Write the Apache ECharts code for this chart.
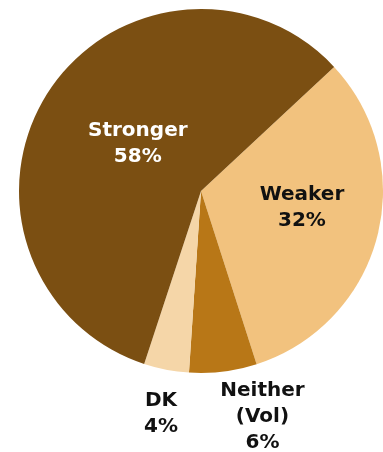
<html>
	<head>
		<meta charset="utf-8">
		<title>Stronger / Weaker</title>
		<script src="https://cdn.jsdelivr.net/npm/echarts@6/dist/echarts.min.js"></script>
	</head>
	<body style="margin: 0px;background:#fff;">
		<div id="main" style="width: 383px;height:452px;"></div>
		<script type="text/javascript">
			// data, clockwise from the upper right
			var names = ['Weaker', 'Neither\n(Vol)', 'DK', 'Stronger'];
			var values = [32, 6, 4, 58];
			var colors = ['#f2c27e', '#b87717', '#f5d6a8', '#7b4f12'];
			var textColors = ['#111', '#111', '#111', '#fff'];

			// nudge for each label away from the default inside spot
			var shift = [[10, -7], [50, 132], [-22, 131], [16, 3]];

			var myChart = echarts.init(document.getElementById('main'));
			var option = {
				animation: false,
				series: [{
					type: 'pie',
					center: [201, 191],
					radius: [0, 182],
					startAngle: 43,
					clockwise: true,
					data: names.map(function(n, i) {
						return {
							name: n,
							value: values[i],
							itemStyle: { color: colors[i] },
							label: { color: textColors[i] }
						};
					}),
					label: {
						show: true,
						position: 'inside',
						formatter: '{b}\n{c}%',
						fontFamily: 'DejaVu Sans',
						fontWeight: 'bold',
						fontSize: 20,
						lineHeight: 26,
						align: 'center'
					},
					labelLine: { show: false },
					labelLayout: function(params) {
						var s = shift[params.dataIndex];
						return { dx: s[0], dy: s[1] };
					},
					emphasis: { disabled: true }
				}]
			};
			myChart.setOption(option);
		</script>
	</body>
</html>
